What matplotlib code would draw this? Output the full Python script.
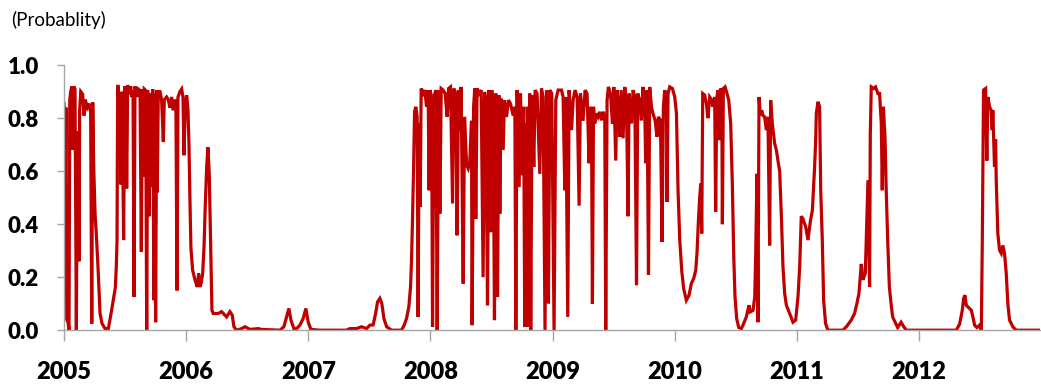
import matplotlib
matplotlib.use("Agg")
import matplotlib.pyplot as plt

# time in decimal years
years = [
    2005.000, 2005.006, 2005.011, 2005.016, 2005.022, 2005.033, 2005.041, 2005.047, 2005.055, 2005.063,
    2005.071, 2005.079, 2005.090, 2005.101, 2005.109, 2005.117, 2005.123, 2005.128, 2005.137, 2005.153,
    2005.164, 2005.174, 2005.191, 2005.207, 2005.218, 2005.227, 2005.235, 2005.243, 2005.254, 2005.264,
    2005.278, 2005.295, 2005.311, 2005.336, 2005.363, 2005.385, 2005.403, 2005.420, 2005.428, 2005.434,
    2005.439, 2005.444, 2005.450, 2005.456, 2005.466, 2005.475, 2005.488, 2005.497, 2005.507, 2005.513,
    2005.521, 2005.535, 2005.546, 2005.556, 2005.565, 2005.573, 2005.581, 2005.595, 2005.608, 2005.622,
    2005.633, 2005.641, 2005.649, 2005.657, 2005.668, 2005.677, 2005.685, 2005.696, 2005.704, 2005.718,
    2005.726, 2005.736, 2005.742, 2005.750, 2005.759, 2005.763, 2005.772, 2005.786, 2005.799, 2005.813,
    2005.821, 2005.840, 2005.853, 2005.867, 2005.881, 2005.894, 2005.908, 2005.916, 2005.925, 2005.933,
    2005.949, 2005.963, 2005.974, 2005.982, 2005.993, 2006.004, 2006.015, 2006.023, 2006.031, 2006.039,
    2006.053, 2006.072, 2006.091, 2006.102, 2006.113, 2006.124, 2006.135, 2006.146, 2006.156, 2006.168,
    2006.178, 2006.189, 2006.200, 2006.211, 2006.222, 2006.263, 2006.290, 2006.304, 2006.331, 2006.358,
    2006.377, 2006.391, 2006.413, 2006.454, 2006.481, 2006.522, 2006.590, 2006.618, 2006.768, 2006.800,
    2006.822, 2006.841, 2006.858, 2006.882, 2006.904, 2006.931, 2006.958, 2006.980, 2006.999, 2007.021,
    2007.095, 2007.313, 2007.340, 2007.395, 2007.436, 2007.477, 2007.504, 2007.531, 2007.551, 2007.567,
    2007.586, 2007.602, 2007.619, 2007.641, 2007.682, 2007.763, 2007.785, 2007.804, 2007.823, 2007.837,
    2007.845, 2007.853, 2007.862, 2007.870, 2007.880, 2007.891, 2007.899, 2007.907, 2007.916, 2007.924,
    2007.940, 2007.954, 2007.968, 2007.981, 2007.989, 2007.997, 2008.009, 2008.017, 2008.028, 2008.044,
    2008.055, 2008.066, 2008.077, 2008.088, 2008.104, 2008.120, 2008.137, 2008.148, 2008.164, 2008.181,
    2008.191, 2008.208, 2008.218, 2008.230, 2008.241, 2008.251, 2008.268, 2008.279, 2008.296, 2008.309,
    2008.322, 2008.336, 2008.341, 2008.353, 2008.363, 2008.371, 2008.382, 2008.398, 2008.415, 2008.431,
    2008.443, 2008.453, 2008.467, 2008.478, 2008.492, 2008.502, 2008.513, 2008.524, 2008.535, 2008.549,
    2008.560, 2008.568, 2008.578, 2008.595, 2008.606, 2008.623, 2008.639, 2008.655, 2008.677, 2008.691,
    2008.699, 2008.709, 2008.726, 2008.737, 2008.750, 2008.763, 2008.772, 2008.780, 2008.786, 2008.794,
    2008.805, 2008.813, 2008.821, 2008.832, 2008.846, 2008.857, 2008.873, 2008.895, 2008.909, 2008.922,
    2008.938, 2008.950, 2008.966, 2008.977, 2008.993, 2009.012, 2009.026, 2009.045, 2009.073, 2009.086,
    2009.100, 2009.108, 2009.124, 2009.135, 2009.155, 2009.168, 2009.184, 2009.201, 2009.217, 2009.228,
    2009.249, 2009.266, 2009.282, 2009.299, 2009.307, 2009.318, 2009.326, 2009.335, 2009.345, 2009.359,
    2009.372, 2009.386, 2009.400, 2009.413, 2009.427, 2009.435, 2009.446, 2009.457, 2009.474, 2009.490,
    2009.501, 2009.517, 2009.528, 2009.539, 2009.550, 2009.561, 2009.577, 2009.591, 2009.605, 2009.618,
    2009.626, 2009.646, 2009.659, 2009.673, 2009.687, 2009.697, 2009.713, 2009.727, 2009.740, 2009.754,
    2009.762, 2009.773, 2009.785, 2009.795, 2009.809, 2009.822, 2009.839, 2009.855, 2009.866, 2009.883,
    2009.896, 2009.907, 2009.918, 2009.932, 2009.937, 2009.945, 2009.959, 2009.981, 2010.000, 2010.014,
    2010.027, 2010.041, 2010.057, 2010.073, 2010.095, 2010.117, 2010.136, 2010.155, 2010.172, 2010.182,
    2010.194, 2010.204, 2010.213, 2010.221, 2010.229, 2010.245, 2010.259, 2010.272, 2010.286, 2010.303,
    2010.313, 2010.327, 2010.335, 2010.344, 2010.354, 2010.362, 2010.374, 2010.385, 2010.390, 2010.398,
    2010.412, 2010.428, 2010.442, 2010.458, 2010.472, 2010.483, 2010.493, 2010.507, 2010.524, 2010.546,
    2010.564, 2010.586, 2010.608, 2010.619, 2010.641, 2010.655, 2010.663, 2010.673, 2010.681, 2010.690,
    2010.701, 2010.712, 2010.722, 2010.736, 2010.750, 2010.763, 2010.777, 2010.785, 2010.799, 2010.818,
    2010.832, 2010.845, 2010.859, 2010.873, 2010.886, 2010.900, 2010.914, 2010.941, 2010.968, 2010.990,
    2011.009, 2011.023, 2011.036, 2011.050, 2011.072, 2011.091, 2011.110, 2011.127, 2011.145, 2011.154,
    2011.159, 2011.173, 2011.186, 2011.195, 2011.208, 2011.219, 2011.235, 2011.254, 2011.377, 2011.405,
    2011.445, 2011.472, 2011.491, 2011.508, 2011.527, 2011.540, 2011.560, 2011.568, 2011.582, 2011.595,
    2011.601, 2011.609, 2011.628, 2011.644, 2011.663, 2011.677, 2011.691, 2011.699, 2011.708, 2011.722,
    2011.730, 2011.744, 2011.757, 2011.771, 2011.784, 2011.806, 2011.825, 2011.853, 2011.875, 2011.896,
    2012.305, 2012.332, 2012.354, 2012.365, 2012.376, 2012.387, 2012.400, 2012.428, 2012.441, 2012.455,
    2012.474, 2012.496, 2012.510, 2012.518, 2012.528, 2012.545, 2012.555, 2012.564, 2012.577, 2012.591,
    2012.599, 2012.604, 2012.618, 2012.627, 2012.632, 2012.645, 2012.659, 2012.673, 2012.686, 2012.700,
    2012.714, 2012.727, 2012.741, 2012.768, 2012.795, 2012.986,
]

# probability of the regime at each date
prob = [
    0.855, 0.78, 0.59, 0.84, 0.04, 0.03, 0.0, 0.87, 0.90, 0.92,
    0.68, 0.92, 0.91, 0.0, 0.75, 0.74, 0.26, 0.83, 0.90, 0.89,
    0.81, 0.87, 0.84, 0.855, 0.82, 0.025, 0.86, 0.62, 0.44, 0.365,
    0.24, 0.063, 0.025, 0.006, 0.006, 0.063, 0.113, 0.16, 0.24, 0.34,
    0.92, 0.92, 0.64, 0.88, 0.55, 0.90, 0.34, 0.92, 0.87, 0.535,
    0.925, 0.89, 0.92, 0.88, 0.905, 0.126, 0.92, 0.88, 0.91, 0.905,
    0.296, 0.91, 0.58, 0.91, 0.905, 0.0, 0.905, 0.43, 0.893, 0.54,
    0.91, 0.113, 0.893, 0.03, 0.905, 0.52, 0.90, 0.90, 0.87, 0.71,
    0.87, 0.88, 0.87, 0.84, 0.88, 0.83, 0.87, 0.86, 0.15, 0.88,
    0.90, 0.91, 0.88, 0.66, 0.85, 0.887, 0.83, 0.70, 0.49, 0.31,
    0.226, 0.19, 0.163, 0.214, 0.163, 0.18, 0.214, 0.31, 0.465, 0.616,
    0.69, 0.59, 0.34, 0.075, 0.063, 0.063, 0.07, 0.063, 0.05, 0.07,
    0.057, 0.013, 0.0, 0.006, 0.013, 0.003, 0.006, 0.003, 0.0, 0.013,
    0.05, 0.082, 0.038, 0.006, 0.006, 0.019, 0.044, 0.082, 0.031, 0.003,
    0.0, 0.0, 0.006, 0.006, 0.013, 0.006, 0.019, 0.02, 0.063, 0.107,
    0.12, 0.10, 0.044, 0.013, 0.0, 0.0, 0.019, 0.044, 0.088, 0.164,
    0.264, 0.415, 0.616, 0.824, 0.843, 0.805, 0.05, 0.78, 0.465, 0.912,
    0.893, 0.906, 0.843, 0.906, 0.528, 0.906, 0.88, 0.013, 0.88, 0.906,
    0.0, 0.906, 0.44, 0.912, 0.906, 0.893, 0.805, 0.912, 0.918, 0.478,
    0.912, 0.893, 0.358, 0.906, 0.755, 0.918, 0.176, 0.805, 0.623, 0.61,
    0.635, 0.79, 0.019, 0.843, 0.912, 0.42, 0.912, 0.893, 0.906, 0.20,
    0.899, 0.868, 0.094, 0.906, 0.37, 0.906, 0.843, 0.038, 0.893, 0.126,
    0.887, 0.44, 0.874, 0.68, 0.868, 0.805, 0.868, 0.855, 0.81, 0.843,
    0.0, 0.906, 0.54, 0.893, 0.585, 0.843, 0.013, 0.78, 0.013, 0.843,
    0.013, 0.893, 0.0, 0.887, 0.616, 0.906, 0.893, 0.59, 0.912, 0.88,
    0.0, 0.906, 0.10, 0.906, 0.893, 0.0, 0.868, 0.906, 0.906, 0.88,
    0.528, 0.88, 0.05, 0.906, 0.755, 0.868, 0.906, 0.88, 0.47, 0.893,
    0.79, 0.906, 0.893, 0.63, 0.843, 0.818, 0.10, 0.843, 0.78, 0.818,
    0.805, 0.824, 0.792, 0.824, 0.81, 0.0, 0.868, 0.918, 0.893, 0.78,
    0.918, 0.64, 0.906, 0.843, 0.73, 0.906, 0.724, 0.918, 0.843, 0.43,
    0.893, 0.78, 0.906, 0.88, 0.17, 0.893, 0.868, 0.792, 0.918, 0.843,
    0.63, 0.906, 0.21, 0.918, 0.843, 0.818, 0.792, 0.73, 0.805, 0.792,
    0.333, 0.843, 0.906, 0.868, 0.484, 0.893, 0.918, 0.912, 0.88, 0.818,
    0.528, 0.34, 0.226, 0.157, 0.113, 0.132, 0.176, 0.195, 0.226, 0.29,
    0.415, 0.50, 0.553, 0.365, 0.893, 0.887, 0.855, 0.80, 0.88, 0.868,
    0.843, 0.88, 0.447, 0.874, 0.906, 0.717, 0.912, 0.893, 0.40, 0.912,
    0.918, 0.893, 0.868, 0.78, 0.54, 0.28, 0.13, 0.044, 0.01, 0.006,
    0.025, 0.05, 0.094, 0.069, 0.075, 0.126, 0.29, 0.59, 0.03, 0.88,
    0.81, 0.83, 0.81, 0.805, 0.755, 0.805, 0.32, 0.868, 0.78, 0.704,
    0.68, 0.64, 0.60, 0.43, 0.24, 0.138, 0.094, 0.063, 0.03, 0.038,
    0.126, 0.24, 0.43, 0.42, 0.39, 0.34, 0.41, 0.453, 0.616, 0.717,
    0.818, 0.862, 0.843, 0.528, 0.34, 0.113, 0.025, 0.0, 0.0, 0.013,
    0.038, 0.063, 0.10, 0.138, 0.25, 0.19, 0.214, 0.34, 0.566, 0.164,
    0.742, 0.918, 0.912, 0.918, 0.893, 0.893, 0.78, 0.528, 0.843, 0.72,
    0.55, 0.33, 0.164, 0.10, 0.05, 0.028, 0.01, 0.03, 0.013, 0.0,
    0.0, 0.023, 0.075, 0.12, 0.132, 0.094, 0.088, 0.075, 0.05, 0.019,
    0.01, 0.019, 0.0, 0.34, 0.906, 0.912, 0.64, 0.88, 0.843, 0.83,
    0.755, 0.83, 0.616, 0.72, 0.566, 0.365, 0.302, 0.29, 0.32, 0.29,
    0.214, 0.10, 0.038, 0.013, 0.0, 0.0,
]

year_ticks = [2005, 2006, 2007, 2008, 2009, 2010, 2011, 2012]
prob_ticks = [0.0, 0.2, 0.4, 0.6, 0.8, 1.0]

plt.rcParams['font.family'] = ['Lato', 'DejaVu Sans']

fig = plt.figure(figsize=(10.41, 3.88), dpi=100)
ax = fig.add_axes([0.0615, 0.149, 0.9375, 0.683])

ax.plot(years, prob, color='#C00000', linewidth=2.3, solid_joinstyle='miter')

ax.set_xlim(2005, 2012.99)
ax.set_ylim(0, 1.0)
ax.set_xticks(year_ticks)
ax.set_xticklabels([str(y) for y in year_ticks], fontsize=17, fontweight='heavy')
ax.set_yticks(prob_ticks)
ax.set_yticklabels(['%.1f' % v for v in prob_ticks], fontsize=16, fontweight='heavy')

# light grey axes, no box
for side in ['top', 'right']:
    ax.spines[side].set_visible(False)
for side in ['left', 'bottom']:
    ax.spines[side].set_color('#A6A6A6')
    ax.spines[side].set_linewidth(1)
ax.tick_params(axis='x', length=8, width=1, color='#A6A6A6', pad=14)
ax.tick_params(axis='y', length=5, width=1, color='#A6A6A6', pad=13)

fig.text(0.011, 0.948, '(Probablity)', fontsize=13.5, ha='left', va='center')

fig.savefig('out.png', dpi=100)
